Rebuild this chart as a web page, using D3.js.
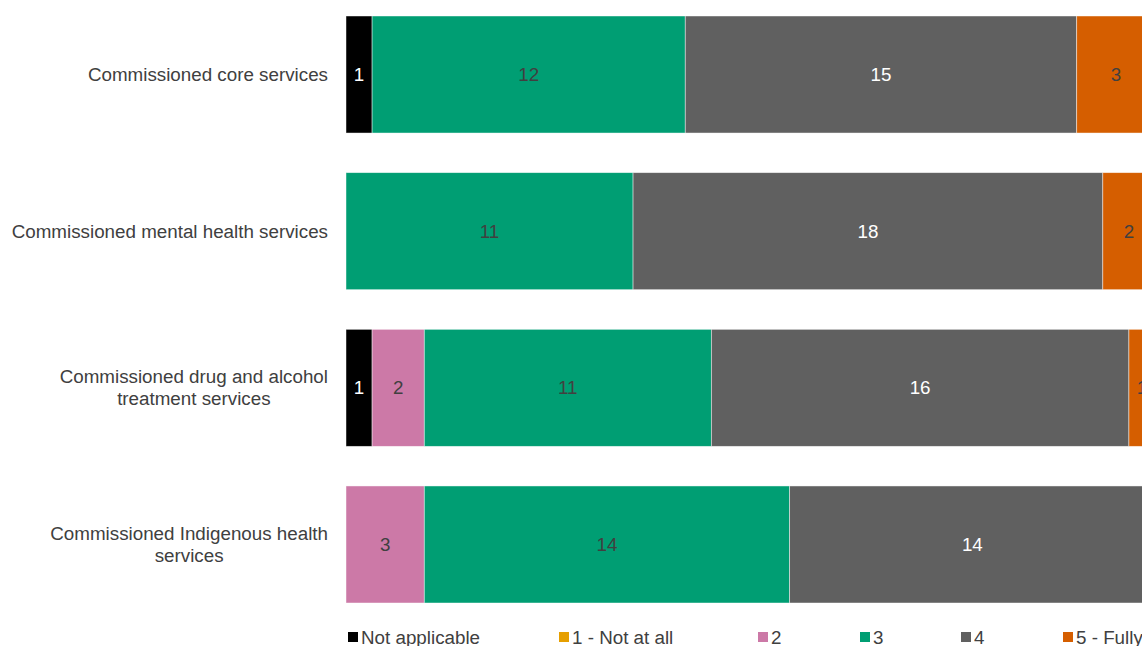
<!DOCTYPE html>
<html>
<head>
<meta charset="utf-8">
<script src="https://cdn.jsdelivr.net/npm/d3@7"></script>
<style>
  html, body { margin: 0; padding: 0; background: #fff; overflow: hidden; }
  svg { display: block; font-family: "Liberation Sans", Arial, sans-serif; }
</style>
</head>
<body>
<svg id="chart" width="1142" height="646"></svg>
<script>
// categories and series
const categories = [
    ['Commissioned core services'],
    ['Commissioned mental health services'],
    ['Commissioned drug and alcohol', 'treatment services'],
    ['Commissioned Indigenous health', 'services']
];
const seriesNames = ['Not applicable', '1 - Not at all', '2', '3', '4', '5 - Fully'];
const seriesColors = ['#000000', '#E69F00', '#CC79A7', '#009E73', '#606060', '#D55E00'];
const labelColors = ['#ffffff', '#404040', '#404040', '#404040', '#ffffff', '#404040'];

const notApplicable = [1, 0, 1, 0];
const notAtAll      = [0, 0, 0, 0];
const two           = [0, 0, 2, 3];
const three         = [12, 11, 11, 14];
const four          = [15, 18, 16, 14];
const fully         = [3, 2, 1, 0];

const seriesValues = [notApplicable, notAtAll, two, three, four, fully];

const fontSize = 18.8;

// build rows for the stack
const rows = categories.map((c, i) => {
    const row = { key: i };
    seriesNames.forEach((s, j) => { row[s] = seriesValues[j][i]; });
    return row;
});

const svg = d3.select('#chart');

const x = d3.scaleLinear().domain([0, 31]).range([346, 1155]);
const y = d3.scaleBand()
    .domain(d3.range(categories.length))
    .range([16, 603])
    .paddingInner(0.253)
    .paddingOuter(0);

const stacked = d3.stack().keys(seriesNames)(rows);

// bars
const layers = svg.append('g').attr('class', 'bars')
    .selectAll('g')
    .data(stacked)
    .join('g')
    .attr('fill', (d, i) => seriesColors[i]);

layers.selectAll('rect')
    .data(d => d.filter(p => p[1] - p[0] > 0))
    .join('rect')
    .attr('x', d => x(d[0]))
    .attr('y', d => y(d.data.key))
    .attr('width', d => x(d[1]) - x(d[0]))
    .attr('height', y.bandwidth())
    .attr('stroke', '#ffffff')
    .attr('stroke-opacity', 0.6)
    .attr('stroke-width', 0.75);

// data labels
layers.each(function(layer, i) {
    d3.select(this).selectAll('text')
        .data(layer.filter(p => p[1] - p[0] > 0))
        .join('text')
        .attr('x', d => (x(d[0]) + x(d[1])) / 2)
        .attr('y', d => y(d.data.key) + y.bandwidth() / 2)
        .attr('dy', '0.35em')
        .attr('text-anchor', 'middle')
        .attr('font-size', fontSize)
        .attr('fill', labelColors[i])
        .text(d => d[1] - d[0]);
});

// category labels, lines centred, block right-aligned at the axis
const catLabels = svg.append('g').attr('class', 'y-labels')
    .selectAll('text')
    .data(categories)
    .join('text')
    .attr('text-anchor', 'middle')
    .attr('font-size', fontSize)
    .attr('fill', '#404040')
    .attr('transform', (d, i) => `translate(0, ${y(i) + y.bandwidth() / 2})`);

catLabels.each(function(lines) {
    const t = d3.select(this);
    const lh = 22;
    const n = lines.length;
    lines.forEach((line, k) => {
        t.append('tspan')
            .attr('x', 0)
            .attr('y', (k - (n - 1) / 2) * lh)
            .attr('dy', '0.35em')
            .text(line);
    });
    const w = this.getBBox().width;
    t.selectAll('tspan').attr('x', 328 - w / 2);
});

// legend
const legendX = [348, 559, 758, 860, 961, 1063];
const legend = svg.append('g').attr('class', 'legend')
    .selectAll('g')
    .data(seriesNames)
    .join('g')
    .attr('transform', (d, i) => `translate(${legendX[i]}, 632)`);

legend.append('rect')
    .attr('width', 10)
    .attr('height', 10)
    .attr('fill', (d, i) => seriesColors[i]);

legend.append('text')
    .attr('x', 13)
    .attr('y', 5)
    .attr('dy', '0.35em')
    .attr('font-size', fontSize)
    .attr('fill', '#404040')
    .text(d => d);
</script>
</body>
</html>
